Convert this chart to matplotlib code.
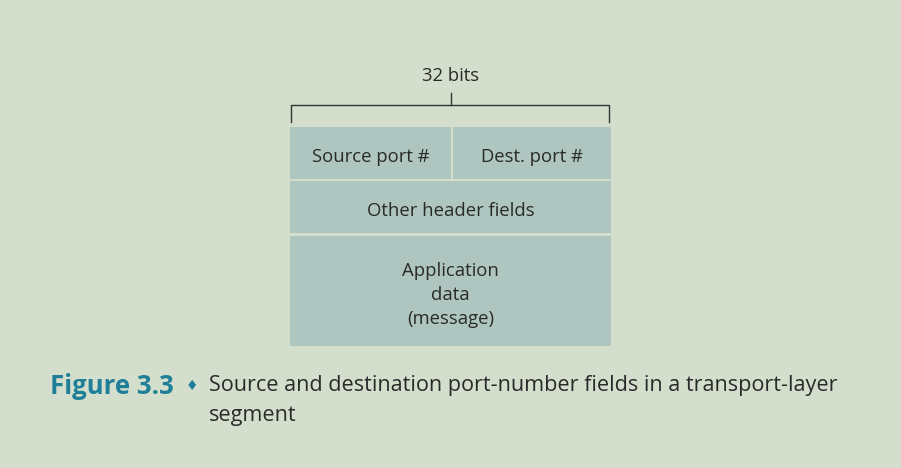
import matplotlib
matplotlib.use("Agg")
import matplotlib.pyplot as plt
from matplotlib.patches import Rectangle

bg = "#d3dfcc"
box = "#aec6bf"
txt = "#2a2a2a"

field_labels = ["Source port #", "Dest. port #", "Other header fields", "Application\ndata\n(message)"]
# (x0, y0, x1, y1) in pixel layout units
field_boxes = [(290, 127, 451, 179), (453, 127, 611, 179), (290, 181, 611, 233), (290, 236, 611, 346)]
width_label = "32 bits"

fig = plt.figure(figsize=(9.01, 4.68), dpi=100, facecolor=bg)
ax = fig.add_axes([0, 0, 1, 1])
ax.set_xlim(0, 901); ax.set_ylim(468, 0); ax.axis("off")
ax.set_facecolor(bg)

for lab, (x0, y0, x1, y1) in zip(field_labels, field_boxes):
    ax.add_patch(Rectangle((x0, y0), x1 - x0, y1 - y0, facecolor=box, edgecolor="none"))
    ax.text((x0 + x1) / 2, (y0 + y1) / 2 + 4, lab, ha="center", va="center", fontsize=13.3,
            color=txt, family="Open Sans", linespacing=1.4)

# bracket
ax.plot([291, 291, 609, 609], [122, 105, 105, 122], color="#333333", lw=1)
ax.plot([451, 451], [105, 93], color="#333333", lw=1)
ax.text(451, 76, width_label, ha="center", va="center", fontsize=13.3, color=txt, family="Open Sans")

ax.text(50, 386, "Figure 3.3", ha="left", va="center", fontsize=18.5, fontweight="bold",
        color="#1f7f99", family="Open Sans")
ax.text(186, 386, "\u2666", ha="left", va="center", fontsize=10, color="#1f7f99")
ax.text(209, 386, "Source and destination port-number fields in a transport-layer",
        ha="left", va="center", fontsize=15.6, color=txt, family="Open Sans")
ax.text(209, 415, "segment", ha="left", va="center", fontsize=15.6, color=txt, family="Open Sans")

fig.savefig("out.png", dpi=100, facecolor=bg)
